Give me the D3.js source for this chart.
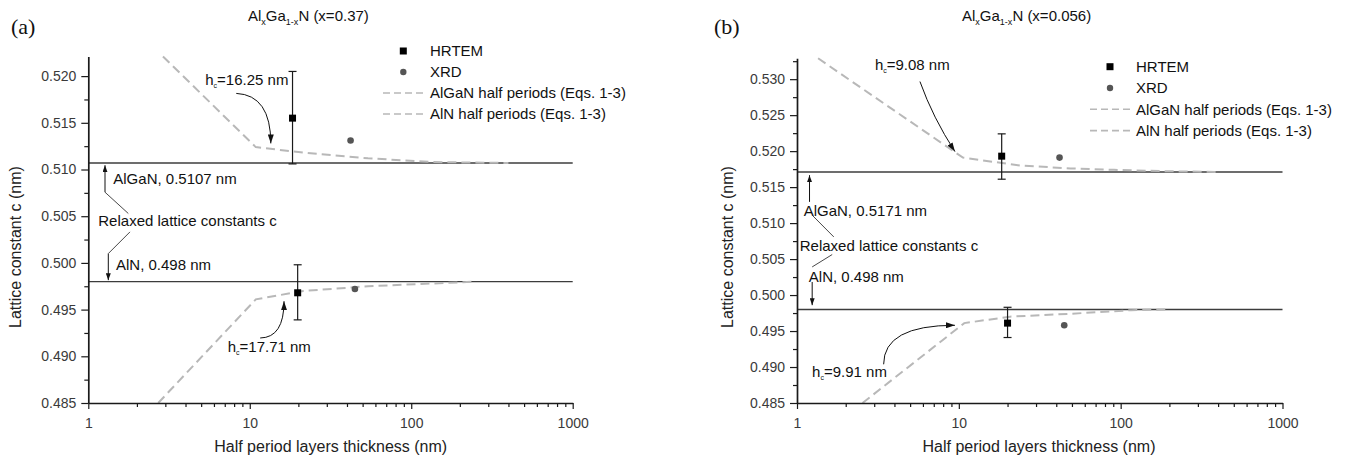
<!DOCTYPE html>
<html>
<head>
<meta charset="utf-8">
<script src="https://cdn.jsdelivr.net/npm/d3@7"></script>
<style>
  body { margin: 0; background: #fff; }
  svg { display: block; font-family: Arial, "Liberation Sans", sans-serif; }
</style>
</head>
<body>
<svg id="chart" width="1358" height="456"></svg>
<script>
// ---- data ----
const xTicks = [1, 10, 100, 1000]
const yTicksA = [0.485, 0.490, 0.495, 0.500, 0.505, 0.510, 0.515, 0.520]
const yTicksB = [0.485, 0.490, 0.495, 0.500, 0.505, 0.510, 0.515, 0.520, 0.525, 0.530]

const legendLabels = ['HRTEM', 'XRD', 'AlGaN half periods (Eqs. 1-3)', 'AlN half periods (Eqs. 1-3)']

// relaxed lattice constants c (nm): AlGaN, AlN
const relaxedA = [0.5107, 0.498]
const relaxedB = [0.5171, 0.498]

// measured points: h = half period thickness (nm), c = lattice constant (nm)
const hrtemA = [{h: 18.4, c: 0.5155, lo: 0.5106, hi: 0.5205}, {h: 19.8, c: 0.4968, lo: 0.4939, hi: 0.4998}]
const xrdA = [{h: 42.1, c: 0.5131}, {h: 44.8, c: 0.4972}]
const hrtemB = [{h: 18.4, c: 0.5193, lo: 0.5161, hi: 0.5224}, {h: 20.0, c: 0.4961, lo: 0.4941, hi: 0.4983}]
const xrdB = [{h: 41.9, c: 0.5191}, {h: 44.8, c: 0.4958}]

// model curves (Eqs. 1-3)
const curveAlGaNA = [{h: 2.9, c: 0.5221}, {h: 10.9, c: 0.5124}, {h: 21.5, c: 0.5118}, {h: 54, c: 0.5112}, {h: 137, c: 0.5108}, {h: 400, c: 0.5107}]
const curveAlNA = [{h: 2.71, c: 0.485}, {h: 10.9, c: 0.4961}, {h: 21.5, c: 0.4970}, {h: 54, c: 0.4975}, {h: 137, c: 0.4978}, {h: 250, c: 0.498}]
const curveAlGaNB = [{h: 1.35, c: 0.5329}, {h: 10.6, c: 0.5191}, {h: 23.8, c: 0.5180}, {h: 49, c: 0.5176}, {h: 91, c: 0.5174}, {h: 200, c: 0.5172}, {h: 400, c: 0.5171}]
const curveAlNB = [{h: 2.54, c: 0.485}, {h: 10.8, c: 0.4961}, {h: 20.7, c: 0.4970}, {h: 49, c: 0.4974}, {h: 116, c: 0.4979}, {h: 200, c: 0.498}]

const hcLabelsA = ['16.25', '17.71']
const hcLabelsB = ['9.08', '9.91']
const compositionA = 'x=0.37'
const compositionB = 'x=0.056'

// ---- drawing ----
const svg = d3.select('#chart')
const defs = svg.append('defs')

function addMarker(id, len, wid) {
  defs.append('marker')
    .attr('id', id)
    .attr('viewBox', '0 0 10 10')
    .attr('refX', 10).attr('refY', 5)
    .attr('markerUnits', 'userSpaceOnUse')
    .attr('markerWidth', len).attr('markerHeight', wid)
    .attr('preserveAspectRatio', 'none')
    .attr('orient', 'auto')
    .append('path')
    .attr('d', 'M0,0 L10,5 L0,10 Z')
    .attr('fill', '#111')
}
addMarker('arrBig', 9, 6)
addMarker('arrSmall', 7, 5)

const panels = [
  {
    tag: '(a)', tagX: 11, titleX: 248, composition: compositionA,
    left: 88.3, right: 572.7, top: 56.5, bottom: 403,
    yDomain: [0.485, 0.5221], yTicks: yTicksA,
    relaxed: relaxedA, hrtem: hrtemA, xrd: xrdA,
    curves: [curveAlGaNA, curveAlNA],
    ylabelX: 15, xlabelX: 330.7,
    legend: {mx: 403.3, tx: 430, y0: 51, dy: 21, lx0: 383, lx1: 425},
    hc: [
      {label: hcLabelsA[0], tx: 5.3, ty: 0.51957, from: [8.25, 0.51815], ctrl: [13.5, 0.51797], to: [13.5, 0.51279]},
      {label: hcLabelsA[1], tx: 7.3, ty: 0.49107, from: [11.6, 0.49196], ctrl: [16.3, 0.4920], to: [16.3, 0.4959]}
    ],
    relaxedNote: {
      algan: {text: 'AlGaN, 0.5107 nm', at: [1.428, 0.50904]},
      mid: {text: 'Relaxed lattice constants c', at: [1.153, 0.50447]},
      aln: {text: 'AlN, 0.498 nm', at: [1.484, 0.49975]},
      up: [[1.269, 0.50757], [1.269, 0.51046]],
      down: [[1.33, 0.501], [1.33, 0.49815]],
      links: [[[1.269, 0.50757], [1.769, 0.50529]], [[1.812, 0.50332], [1.33, 0.501]]]
    }
  },
  {
    tag: '(b)', tagX: 714, titleX: 962, composition: compositionB,
    left: 797, right: 1282.5, top: 58.3, bottom: 403,
    yDomain: [0.485, 0.5329], yTicks: yTicksB,
    relaxed: relaxedB, hrtem: hrtemB, xrd: xrdB,
    curves: [curveAlGaNB, curveAlNB],
    ylabelX: 727.5, xlabelX: 1039,
    legend: {mx: 1110, tx: 1136, y0: 66.7, dy: 21.3, lx0: 1090, lx1: 1132},
    hc: [
      {label: hcLabelsB[0], tx: 3.03, ty: 0.53196, from: [5.75, 0.52967], ctrl: [6.92, 0.52463], to: [9.46, 0.51994]},
      {label: hcLabelsB[1], tx: 1.24, ty: 0.48941, from: [3.43, 0.49038], ctrl: [3.43, 0.4958], to: [9.46, 0.4958]}
    ],
    relaxedNote: {
      algan: {text: 'AlGaN, 0.5171 nm', at: [1.10, 0.5117]},
      mid: {text: 'Relaxed lattice constants c', at: [1.04, 0.50679]},
      aln: {text: 'AlN, 0.498 nm', at: [1.183, 0.50252]},
      up: [[1.195, 0.51295], [1.195, 0.51666]],
      down: [[1.241, 0.50182], [1.241, 0.49859]],
      links: [[[1.241, 0.5111], [1.688, 0.50808]], [[1.65, 0.50563], [1.241, 0.50391]]]
    }
  }
]

const curveColor = '#b8b8b8'
const inkColor = '#1a1a1a'

function drawPanel(p) {
  const x = d3.scaleLog().domain([1, 1000]).range([p.left, p.right])
  const y = d3.scaleLinear().domain(p.yDomain).range([p.bottom, p.top])
  const g = svg.append('g')

  // relaxed lattice constant lines
  g.selectAll('line.relaxed')
    .data(p.relaxed)
    .join('line')
    .attr('class', 'relaxed')
    .attr('x1', x(1)).attr('x2', x(1000))
    .attr('y1', d => y(d)).attr('y2', d => y(d))
    .attr('stroke', '#3c3c3c')
    .attr('stroke-width', 1.4)

  // model curves
  const line = d3.line().x(d => x(d.h)).y(d => y(d.c))
  g.selectAll('path.model')
    .data(p.curves)
    .join('path')
    .attr('class', 'model')
    .attr('d', line)
    .attr('fill', 'none')
    .attr('stroke', curveColor)
    .attr('stroke-width', 2)
    .attr('stroke-dasharray', '9,5')

  // HRTEM with error bars
  const eb = g.selectAll('g.eb').data(p.hrtem).join('g').attr('class', 'eb')
  eb.append('line')
    .attr('x1', d => x(d.h)).attr('x2', d => x(d.h))
    .attr('y1', d => y(d.lo)).attr('y2', d => y(d.hi))
    .attr('stroke', inkColor).attr('stroke-width', 1.2)
  eb.selectAll('line.cap')
    .data(d => [{h: d.h, v: d.lo}, {h: d.h, v: d.hi}])
    .join('line')
    .attr('class', 'cap')
    .attr('x1', d => x(d.h) - 4).attr('x2', d => x(d.h) + 4)
    .attr('y1', d => y(d.v)).attr('y2', d => y(d.v))
    .attr('stroke', inkColor).attr('stroke-width', 1.2)
  eb.append('rect')
    .attr('x', d => x(d.h) - 3.5).attr('y', d => y(d.c) - 3.5)
    .attr('width', 7).attr('height', 7)
    .attr('fill', '#000')

  // XRD
  g.selectAll('circle.xrd')
    .data(p.xrd)
    .join('circle')
    .attr('class', 'xrd')
    .attr('cx', d => x(d.h)).attr('cy', d => y(d.c))
    .attr('r', 3.3)
    .attr('fill', '#555')

  // axes
  g.append('g')
    .attr('transform', `translate(${p.left},0)`)
    .call(d3.axisLeft(y).tickValues(p.yTicks).tickFormat(d3.format('.3f')).tickSize(7).tickSizeOuter(0).tickPadding(5))
  const yMinor = p.yTicks.map(v => v + 0.0025).filter(v => v < p.yDomain[1])
  g.append('g')
    .attr('transform', `translate(${p.left},0)`)
    .call(d3.axisLeft(y).tickValues(yMinor).tickFormat('').tickSize(4).tickSizeOuter(0))
    .call(a => a.select('.domain').remove())

  g.append('g')
    .attr('transform', `translate(0,${p.bottom})`)
    .call(d3.axisBottom(x).tickValues(xTicks).tickFormat(d3.format('d')).tickSize(6).tickSizeOuter(0).tickPadding(9))
  const xMinor = x.ticks().filter(v => !xTicks.includes(v))
  g.append('g')
    .attr('transform', `translate(0,${p.bottom})`)
    .call(d3.axisBottom(x).tickValues(xMinor).tickFormat('').tickSize(4).tickSizeOuter(0))
    .call(a => a.select('.domain').remove())

  g.selectAll('.domain').attr('stroke', inkColor).attr('stroke-width', 1.7)
  g.selectAll('.tick line').attr('stroke', inkColor).attr('stroke-width', 1.2)
  g.selectAll('.tick text')
    .attr('fill', '#3a3a3a')
    .style('font-size', '14px')
    .style('font-family', 'Arial, "Liberation Sans", sans-serif')

  // axis titles
  g.append('text')
    .attr('transform', `translate(${p.ylabelX},247) rotate(-90)`)
    .attr('text-anchor', 'middle')
    .attr('dy', '0.35em')
    .attr('fill', '#222')
    .style('font-size', '16px')
    .text('Lattice constant c (nm)')
  g.append('text')
    .attr('x', p.xlabelX).attr('y', 446)
    .attr('text-anchor', 'middle')
    .attr('dy', '0.35em')
    .attr('fill', '#222')
    .style('font-size', '16px')
    .text('Half period layers thickness (nm)')

  // panel tag and title
  g.append('text')
    .attr('x', p.tagX).attr('y', 34)
    .style('font-family', '"Liberation Serif", "Times New Roman", serif')
    .style('font-size', '22px')
    .attr('fill', '#111')
    .text(p.tag)
  const title = g.append('text')
    .attr('x', p.titleX).attr('y', 21)
    .style('font-size', '15px')
    .attr('fill', '#111')
  title.append('tspan').text('Al')
  title.append('tspan').attr('dy', 3.5).style('font-size', '9px').text('x')
  title.append('tspan').attr('dy', -3.5).text('Ga')
  title.append('tspan').attr('dy', 3.5).style('font-size', '9px').text('1-x')
  title.append('tspan').attr('dy', -3.5).text(`N (${p.composition})`)

  // legend
  const L = p.legend
  const lg = g.append('g')
  lg.append('rect')
    .attr('x', L.mx - 3.5).attr('y', L.y0 - 3.5)
    .attr('width', 7).attr('height', 7).attr('fill', '#000')
  lg.append('circle')
    .attr('cx', L.mx).attr('cy', L.y0 + L.dy).attr('r', 3.2).attr('fill', '#555')
  ;[2, 3].forEach(i => {
    lg.append('line')
      .attr('x1', L.lx0).attr('x2', L.lx1)
      .attr('y1', L.y0 + i * L.dy).attr('y2', L.y0 + i * L.dy)
      .attr('stroke', curveColor).attr('stroke-width', 1.6)
      .attr('stroke-dasharray', '7,4')
  })
  lg.selectAll('text')
    .data(legendLabels)
    .join('text')
    .attr('x', L.tx)
    .attr('y', (d, i) => L.y0 + i * L.dy)
    .attr('dy', '0.35em')
    .attr('fill', '#111')
    .style('font-size', '15px')
    .text(d => d)

  // critical thickness notes
  const pt = d => [x(d[0]), y(d[1])]
  p.hc.forEach(n => {
    const t = g.append('text')
      .attr('x', x(n.tx)).attr('y', y(n.ty))
      .attr('dy', '0.35em')
      .attr('fill', '#111')
      .style('font-size', '15px')
    t.append('tspan').text('h')
    t.append('tspan').attr('dy', 3).style('font-size', '7px').text('c')
    t.append('tspan').attr('dy', -3).text(`=${n.label} nm`)
    const a = pt(n.from), c = pt(n.ctrl), b = pt(n.to)
    g.append('path')
      .attr('d', `M${a[0]},${a[1]} Q${c[0]},${c[1]} ${b[0]},${b[1]}`)
      .attr('fill', 'none')
      .attr('stroke', '#111')
      .attr('stroke-width', 1)
      .attr('marker-end', 'url(#arrBig)')
  })

  // relaxed constants note
  const R = p.relaxedNote
  ;[R.algan, R.mid, R.aln].forEach(n => {
    g.append('text')
      .attr('x', x(n.at[0])).attr('y', y(n.at[1]))
      .attr('dy', '0.35em')
      .attr('fill', '#111')
      .style('font-size', '15px')
      .text(n.text)
  })
  ;[R.up, R.down].forEach(s => {
    const a = pt(s[0]), b = pt(s[1])
    g.append('line')
      .attr('x1', a[0]).attr('y1', a[1]).attr('x2', b[0]).attr('y2', b[1])
      .attr('stroke', '#111').attr('stroke-width', 1)
      .attr('marker-end', 'url(#arrSmall)')
  })
  R.links.forEach(s => {
    const a = pt(s[0]), b = pt(s[1])
    g.append('line')
      .attr('x1', a[0]).attr('y1', a[1]).attr('x2', b[0]).attr('y2', b[1])
      .attr('stroke', '#333').attr('stroke-width', 0.9)
  })
}

panels.forEach(drawPanel)
</script>
</body>
</html>
